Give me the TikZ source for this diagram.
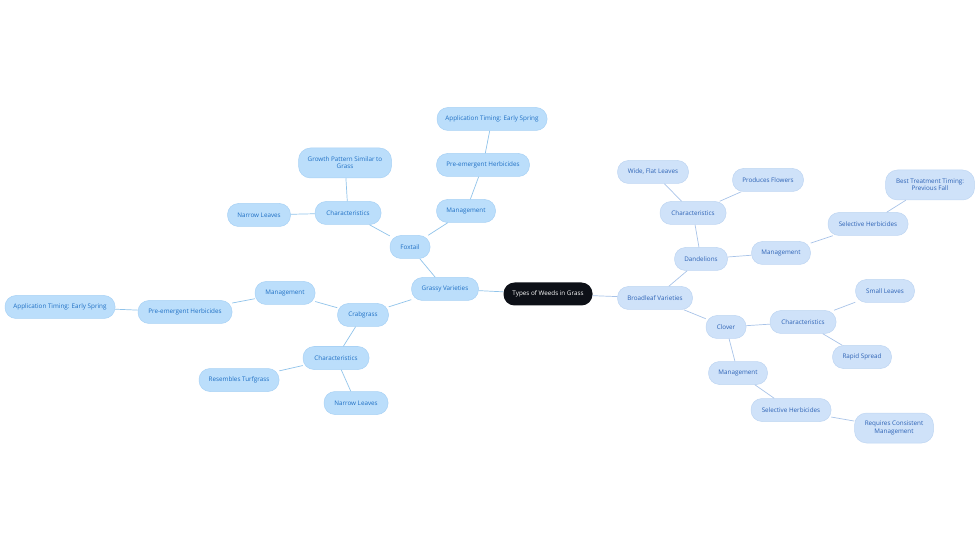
\documentclass[tikz,border=0pt]{standalone}
\usepackage{fontspec}
\setmainfont{Open Sans}
\begin{document}
\begin{tikzpicture}[x=1pt,y=-1pt,
  every node/.style={font=\fontsize{6.3}{7.2}\selectfont, align=center, inner sep=0pt, minimum height=23pt, rounded corners=11pt},
  lnode/.style={draw=cA9D2F5, fill=cBBDEFB, text=c1E6FC4, line width=0.5pt},
  rnode/.style={draw=cBFD6F2, fill=cCFE2F9, text=c2C62B5, line width=0.5pt},
  tall/.style={minimum height=30pt, rounded corners=12pt},
  root/.style={fill=c0D1017, text=white},
  ledge/.style={draw=c90C3EA, line width=0.7pt},
  redge/.style={draw=cA8C3E8, line width=0.7pt}]
\definecolor{cA9D2F5}{HTML}{A9D2F5}
\definecolor{cBBDEFB}{HTML}{BBDEFB}
\definecolor{c1E6FC4}{HTML}{1E6FC4}
\definecolor{cBFD6F2}{HTML}{BFD6F2}
\definecolor{cCFE2F9}{HTML}{CFE2F9}
\definecolor{c2C62B5}{HTML}{2C62B5}
\definecolor{c0D1017}{HTML}{0D1017}
\definecolor{c90C3EA}{HTML}{90C3EA}
\definecolor{cA8C3E8}{HTML}{A8C3E8}
\useasboundingbox (0,0) rectangle (980,553);
% nodes
\node[root, minimum width=89pt] (root) at (548,294) {Types of Weeds in Grass};
\node[lnode, minimum width=67pt] (grassy) at (445,289) {Grassy Varieties};
\node[lnode, minimum width=40pt] (foxtail) at (410,247) {Foxtail};
\node[lnode, minimum width=51pt] (crab) at (363,315) {Crabgrass};
\node[lnode, minimum width=66pt] (fchar) at (348,213) {Characteristics};
\node[lnode, tall, minimum width=93pt] (fgrowth) at (345,163) {Growth Pattern Similar to\\Grass};
\node[lnode, minimum width=63pt] (fnarrow) at (259,215) {Narrow Leaves};
\node[lnode, minimum width=59pt] (fman) at (466,211) {Management};
\node[lnode, minimum width=93pt] (fpre) at (483,165) {Pre-emergent Herbicides};
\node[lnode, minimum width=110pt] (fapp) at (492,119) {Application Timing: Early Spring};
\node[lnode, minimum width=60pt] (cman) at (285,293) {Management};
\node[lnode, minimum width=94pt] (cpre) at (185,312) {Pre-emergent Herbicides};
\node[lnode, minimum width=110pt] (capp) at (60,307) {Application Timing: Early Spring};
\node[lnode, minimum width=66pt] (cchar) at (336,358) {Characteristics};
\node[lnode, minimum width=80pt] (cres) at (239,380) {Resembles Turfgrass};
\node[lnode, minimum width=64pt] (cnarrow) at (356,403) {Narrow Leaves};
\node[rnode, minimum width=75pt] (broad) at (655,298) {Broadleaf Varieties};
\node[rnode, minimum width=53pt] (dand) at (701,259) {Dandelions};
\node[rnode, minimum width=66pt] (dchar) at (693,213) {Characteristics};
\node[rnode, minimum width=71pt] (dwide) at (653,172) {Wide, Flat Leaves};
\node[rnode, minimum width=71pt] (dflow) at (768,180) {Produces Flowers};
\node[rnode, minimum width=59pt] (dman) at (781,253) {Management};
\node[rnode, minimum width=80pt] (dsel) at (868,224) {Selective Herbicides};
\node[rnode, tall, minimum width=89pt] (dbest) at (930,185) {Best Treatment Timing:\\Previous Fall};
\node[rnode, minimum width=40pt] (clover) at (726,327) {Clover};
\node[rnode, minimum width=66pt] (clchar) at (803,322) {Characteristics};
\node[rnode, minimum width=59pt] (clsmall) at (885,291) {Small Leaves};
\node[rnode, minimum width=59pt] (clrapid) at (862,357) {Rapid Spread};
\node[rnode, minimum width=59pt] (clman) at (738,373) {Management};
\node[rnode, minimum width=80pt] (clsel) at (791,410) {Selective Herbicides};
\node[rnode, tall, minimum width=79pt] (clreq) at (894,428) {Requires Consistent\\Management};
% connectors
\draw[ledge] (root) -- (grassy);
\draw[ledge] (grassy) -- (foxtail);
\draw[ledge] (grassy) -- (crab);
\draw[ledge] (foxtail) -- (fchar);
\draw[ledge] (fchar) -- (fgrowth);
\draw[ledge] (fchar) -- (fnarrow);
\draw[ledge] (foxtail) -- (fman);
\draw[ledge] (fman) -- (fpre);
\draw[ledge] (fpre) -- (fapp);
\draw[ledge] (crab) -- (cman);
\draw[ledge] (cman) -- (cpre);
\draw[ledge] (cpre) -- (capp);
\draw[ledge] (crab) -- (cchar);
\draw[ledge] (cchar) -- (cres);
\draw[ledge] (cchar) -- (cnarrow);
\draw[redge] (root) -- (broad);
\draw[redge] (broad) -- (dand);
\draw[redge] (dand) -- (dchar);
\draw[redge] (dchar) -- (dwide);
\draw[redge] (dchar) -- (dflow);
\draw[redge] (dand) -- (dman);
\draw[redge] (dman) -- (dsel);
\draw[redge] (dsel) -- (dbest);
\draw[redge] (broad) -- (clover);
\draw[redge] (clover) -- (clchar);
\draw[redge] (clchar) -- (clsmall);
\draw[redge] (clchar) -- (clrapid);
\draw[redge] (clover) -- (clman);
\draw[redge] (clman) -- (clsel);
\draw[redge] (clsel) -- (clreq);
\end{tikzpicture}
\end{document}
